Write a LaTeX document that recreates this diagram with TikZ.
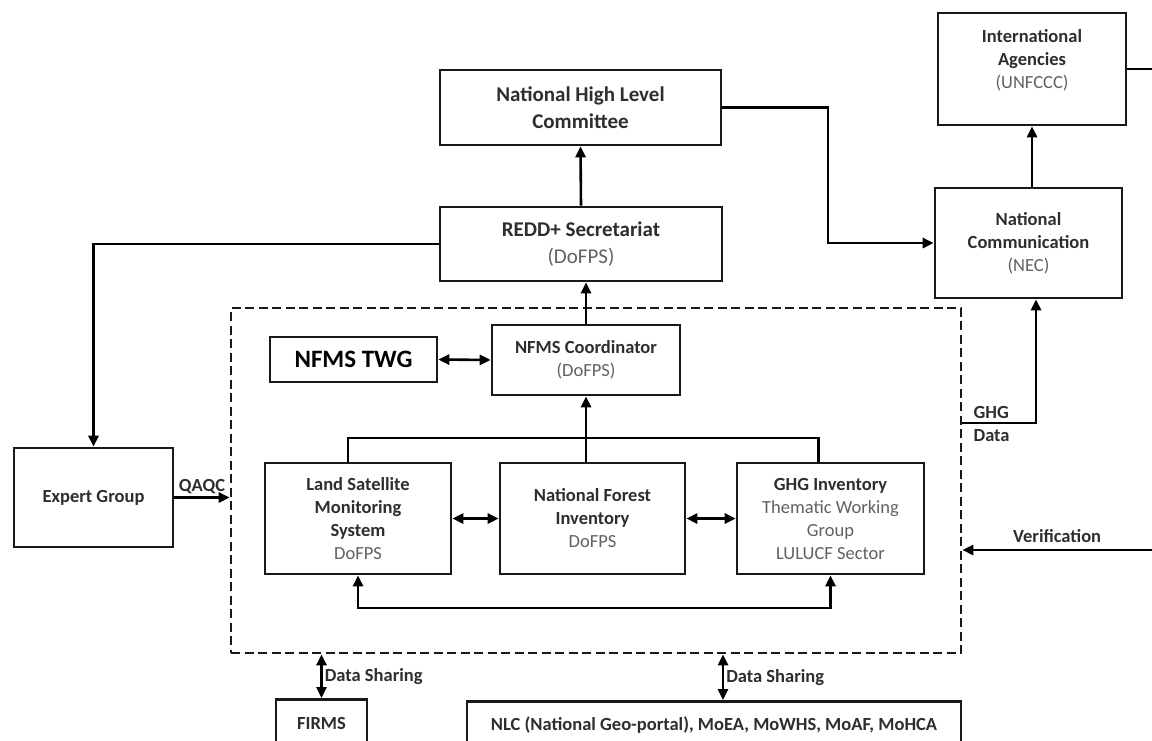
\documentclass[tikz,border=0pt]{standalone}
\usepackage{fontspec}
\setmainfont{Carlito}
\usetikzlibrary{arrows.meta,calc}
\newcommand{\dept}[1]{{\mdseries\color{black!62}#1}}

\begin{document}
\begin{tikzpicture}[x=1pt, y=-1pt, line width=2.6pt, %%% y runs downward, 1pt per pixel
    >={Triangle[length=11pt,width=10pt]},
    box/.style={draw=black!90, align=center, inner sep=0pt, text=black!82,
      font=\fontsize{18.5}{23}\selectfont\bfseries},
    bigbox/.style={box, font=\fontsize{21}{27}\selectfont\bfseries},
    frame/.style={draw=black!90, dash pattern=on 9pt off 4.5pt},
    lbl/.style={text=black!82, inner sep=2pt, font=\fontsize{18.5}{23}\selectfont\bfseries}]
      \clip (0,0) rectangle (1152,740);
      \fill[white] (0,0) rectangle (1152,740);
      \coordinate (verif) at (1152,550);
      \coordinate (brace) at (586,438);
      \coordinate (loop)  at (590,608);

      %%% upper chain
      \node[bigbox, minimum width=281, minimum height=75] (nhlc) at (580.5,107.5) {National High Level\\Committee};
      \node[bigbox, minimum width=282, minimum height=74] (redd) at (581,244) {REDD+ Secretariat\\\dept{(DoFPS)}};
      \node[box, minimum width=188, minimum height=112,
        label={[lbl, align=center, yshift=9pt]center:International\\Agencies\\\dept{(UNFCCC)}}] (intag) at (1032,69) {};
      \node[box, minimum width=187, minimum height=110] (natcomm) at (1028.5,243) {National\\Communication\\\dept{(NEC)}};
      \node[box, minimum width=159, minimum height=99] (expert) at (93.5,497.5) {Expert Group};

      %%% dashed NFMS frame and its content
      \node[frame, minimum width=730, minimum height=345] (nfms) at (596,480.5) {};
      \node[box, minimum width=167, minimum height=45, font=\fontsize{25}{30}\selectfont\bfseries, text=black] (twg) at (353.5,359.5) {NFMS TWG};
      \node[box, minimum width=188, minimum height=70] (coord) at (586,360) {NFMS Coordinator\\\dept{(DoFPS)}};
      \node[box, minimum width=186, minimum height=111] (lsms) at (358,518.5) {Land Satellite\\Monitoring\\System\\\dept{DoFPS}};
      \node[box, minimum width=185, minimum height=111] (nfi) at (592.5,518.5) {National Forest\\Inventory\\\dept{DoFPS}};
      \node[box, minimum width=187, minimum height=111] (ghg) at (830.5,518.5) {GHG Inventory\\\dept{Thematic Working}\\\dept{Group}\\\dept{LULUCF Sector}};

      %%% bottom partners, cut by the page edge
      \node[box, anchor=north, minimum width=91, minimum height=48] (firms) at (321.5,698) {FIRMS};
      \node[box, anchor=north, minimum width=494, minimum height=48] (nlc) at (714,700) {NLC (National Geo-portal), MoEA, MoWHS, MoAF, MoHCA};

      %%% connectors
      \draw[->] (redd.north) -- (nhlc.south);
      \draw[->] (coord.north) -- (coord.north |- redd.south);
      \draw[->] (nhlc.east) -| ($(nhlc.east)!0.5!(natcomm.west)$) |- (natcomm.west);
      \draw[->] (intag.south |- natcomm.north) -- (intag.south);
      \draw (intag.east) -- (intag.east -| verif);
      \draw[->] (redd.west) -| (expert.north);
      \draw[->] (expert.east) -- (expert.east -| nfms.west) node[lbl, midway, above] {QAQC};
      \draw[<->] (twg.east) -- (coord.west);
      \draw[<->] (lsms.east) -- (nfi.west);
      \draw[<->] (nfi.east) -- (ghg.west);
      \draw ([xshift=-10pt]lsms.north) |- (brace) -| ([xshift=-12pt]ghg.north);
      \draw[->] (coord.south |- nfi.north) -- (coord.south);
      \draw[<->] (lsms.south) |- (loop) -| (ghg.south);
      \draw[<->] (firms.north |- nfms.south) -- (firms.north) node[lbl, midway, right] {Data Sharing};
      \draw[<->] ([xshift=9pt]nlc.north |- nfms.south) -- ([xshift=9pt]nlc.north) node[lbl, midway, right] {Data Sharing};
      \draw[->] ([yshift=57.5pt]nfms.east) -| ([xshift=7.5pt]natcomm.south);
      \node[lbl, anchor=west, align=left] (ghgdata) at ([xshift=8pt,yshift=56.5pt]nfms.east) {GHG\\Data};
      \draw[->] (verif) -- (verif -| nfms.east) node[lbl, midway, above, yshift=4pt] {Verification};
\end{tikzpicture}
\end{document}
